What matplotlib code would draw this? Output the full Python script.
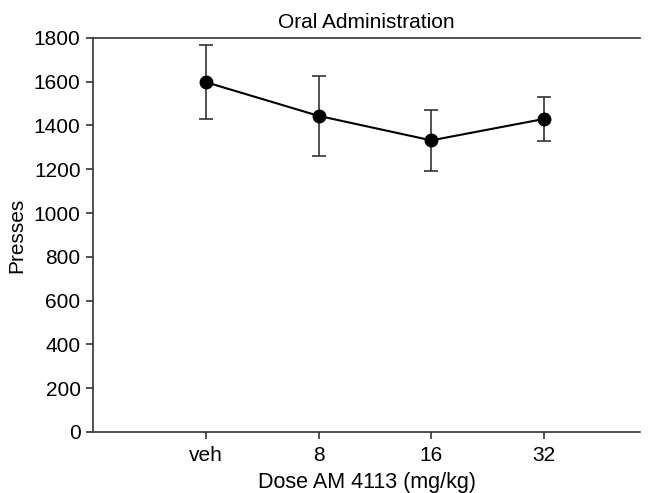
import numpy as np
import matplotlib.pyplot as plt

plt.rcParams['font.family'] = ['Liberation Sans', 'DejaVu Sans']

doses = ['veh', '8', '16', '32']
presses = [1598, 1444, 1332, 1430]
sem = [170, 182, 140, 100]

fig = plt.figure(figsize=(6.51, 4.93), dpi=100)
ax = fig.add_axes([0.143, 0.124, 0.84, 0.799])

x = np.arange(1, len(doses) + 1)
ax.errorbar(x, presses, yerr=sem, fmt='none', ecolor='#333333', elinewidth=1.2,
            capsize=5, capthick=1.2, zorder=2)
ax.plot(x, presses, color='black', linewidth=1.5, marker='o', markersize=9, zorder=3)

ax.set_xlim(0, 4.85)
ax.set_ylim(0, 1800)
ax.set_yticks(np.arange(0, 1801, 200))
ax.set_xticks(x)
ax.set_xticklabels(doses)

for side in ['left', 'bottom', 'top']:
    ax.spines[side].set_color('#333333')
    ax.spines[side].set_linewidth(1.2)
ax.spines['right'].set_visible(False)

ax.tick_params(axis='both', labelsize=15, direction='out', length=5, width=1.2, color='#333333')
ax.tick_params(axis='x', pad=5)
ax.tick_params(axis='y', pad=4)
ax.set_title('Oral Administration', fontsize=15, pad=7)
ax.set_xlabel('Dose AM 4113 (mg/kg)', fontsize=15.5, labelpad=5)
ax.set_ylabel('Presses', fontsize=15, labelpad=5.5)

fig.savefig('out.png', dpi=100)
